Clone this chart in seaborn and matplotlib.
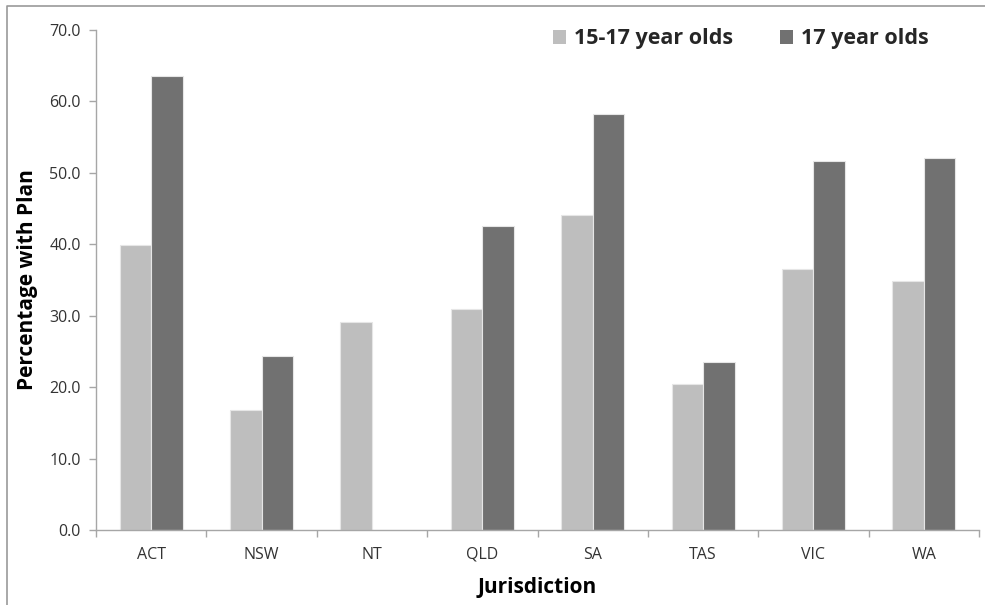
import numpy as np
import pandas as pd
import matplotlib
matplotlib.use("Agg")
import matplotlib.pyplot as plt
import seaborn as sns
from matplotlib.lines import Line2D
from matplotlib.patches import Patch

# data
jurisdictions = ["ACT", "NSW", "NT", "QLD", "SA", "TAS", "VIC", "WA"]
age_15_17 = [39.9, 16.8, 29.1, 30.9, 44.1, 20.5, 36.5, 34.9]
age_17 = [63.5, 24.4, np.nan, 42.5, 58.2, 23.5, 51.6, 52.1]
series_names = ["15-17 year olds", "17 year olds"]
series_colors = ["#BEBEBE", "#717171"]
y_ticks = [0, 10, 20, 30, 40, 50, 60, 70]

df = pd.DataFrame({
    "Jurisdiction": jurisdictions * 2,
    "Group": [series_names[0]] * len(jurisdictions) + [series_names[1]] * len(jurisdictions),
    "Value": age_15_17 + age_17,
}).dropna()

sns.set_theme(style="white")
plt.rcParams["font.family"] = ["Open Sans", "DejaVu Sans"]

fig = plt.figure(figsize=(9.85, 6.05), dpi=100)
ax = fig.add_axes([96 / 985, 75 / 605, 883 / 985, 500 / 605])

sns.barplot(data=df, x="Jurisdiction", y="Value", hue="Group",
            order=jurisdictions, hue_order=series_names,
            palette=series_colors, width=0.57, errorbar=None,
            edgecolor="#E6E6E6", linewidth=0.8, ax=ax)

ax.set_xlim(-0.5, len(jurisdictions) - 0.5)
ax.set_ylim(0, 70)
ax.set_yticks(y_ticks)
ax.set_yticklabels([f"{v:.1f}" for v in y_ticks])

# category boundaries as outward minor ticks, no major tick marks
ax.set_xticks(np.arange(-0.5, len(jurisdictions)), minor=True)
ax.tick_params(axis="x", which="major", length=0, pad=12, labelsize=11.5, labelcolor="#333333")
ax.tick_params(axis="x", which="minor", length=5, width=1, color="#A6A6A6", direction="out", bottom=True)
ax.tick_params(axis="y", which="major", length=5, width=1, color="#A6A6A6", direction="out", left=True,
               labelsize=11.5, labelcolor="#333333", pad=6)

for side in ["top", "right"]:
    ax.spines[side].set_visible(False)
for side in ["left", "bottom"]:
    ax.spines[side].set_color("#A6A6A6")
    ax.spines[side].set_linewidth(1)

ax.set_xlabel("Jurisdiction", fontsize=15, fontweight="bold", color="black", labelpad=10)
ax.set_ylabel("Percentage with Plan", fontsize=15, fontweight="bold", color="black", labelpad=8)

handles = [Patch(facecolor=c, edgecolor="none") for c in series_colors]
ax.legend(handles, series_names, loc="upper right", bbox_to_anchor=(0.955, 1.025), ncol=2,
          frameon=False, prop={"weight": "bold", "size": 15.5},
          handlelength=0.6, handleheight=0.6, handletextpad=0.35, columnspacing=2.2, borderpad=0)

# thin grey frame visible on the left and top of the original image
fig.add_artist(Line2D([7 / 985, 7 / 985, 1], [0, 1 - 6 / 605, 1 - 6 / 605],
                      transform=fig.transFigure, color="#999999", linewidth=1.2))

fig.savefig("out.png", dpi=100)
